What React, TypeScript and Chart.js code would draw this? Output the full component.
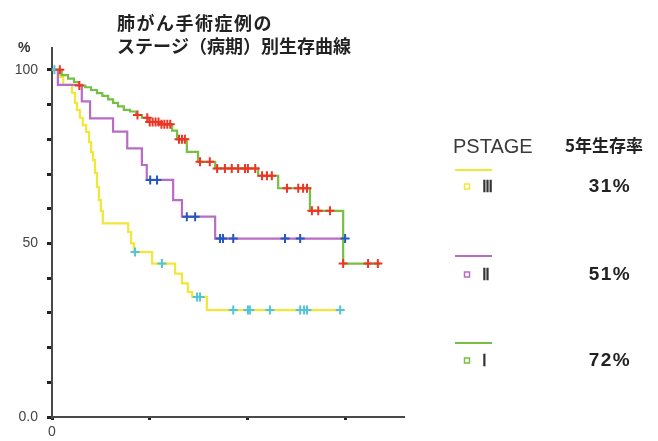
import { useEffect, useRef } from 'react';
import { Chart, registerables } from 'chart.js';

Chart.register(...registerables);

// ---- Text ----
const TITLE_LINES = ['肺がん手術症例の', 'ステージ（病期）別生存曲線'];
const LEGEND_HEADER = 'PSTAGE';
const RATE_HEADER = '5年生存率';
const STAGE_LABELS = ['Ⅲ', 'Ⅱ', 'Ⅰ'];
const RATE_LABELS = ['31%', '51%', '72%'];
const Y_UNIT = '%';
const X_TICKS = [0, 2, 4, 6];
const Y_TICK_LABELS: Record<number, string> = { 100: '100', 50: '50', 0: '0.0' };
const X_TICK_LABELS: Record<number, string> = { 0: '0' };

// ---- Data (time in years, survival in %) ----
const stage1Times = [0, 0.2, 0.33, 0.45, 0.55, 0.68, 0.8, 0.92, 1.03, 1.15, 1.25, 1.35, 1.47, 1.6, 1.72, 1.84, 1.96, 2.2, 2.46, 2.56, 2.76, 2.99, 3.34, 4.22, 4.63, 5.28, 5.96, 6.72];
const stage1Surv = [100, 98.5, 97.5, 96.5, 95.5, 95, 94.2, 93.3, 92.5, 91.5, 90.5, 89.5, 88.5, 88, 87, 86.2, 85, 84.3, 82.5, 80, 76.4, 73.5, 71.6, 69.5, 65.9, 59.4, 44.2, 44.2];
const stage1CensorTimes = [0.16, 0.56, 1.75, 1.95, 2.0, 2.06, 2.12, 2.18, 2.24, 2.3, 2.36, 2.42, 2.6, 2.66, 2.72, 3.03, 3.23, 3.38, 3.54, 3.68, 3.81, 3.95, 4.01, 4.16, 4.3, 4.4, 4.5, 4.81, 5.04, 5.14, 5.22, 5.32, 5.45, 5.69, 5.96, 6.47, 6.67];
const stage1CensorSurv = [100, 95.5, 87, 86.2, 85, 85, 85, 85, 84.3, 84.3, 84.3, 84.3, 80, 80, 80, 73.5, 73.5, 71.6, 71.6, 71.6, 71.6, 71.6, 71.6, 71.6, 69.5, 69.5, 69.5, 65.9, 65.9, 65.9, 65.9, 59.4, 59.4, 59.4, 44.2, 44.2, 44.2];

const stage2Times = [0, 0.12, 0.61, 0.78, 1.25, 1.54, 1.84, 1.94, 2.48, 2.66, 3.34, 6.0];
const stage2Surv = [100, 95.7, 90.9, 86, 82.2, 77.4, 72.6, 68.3, 62.5, 57.7, 51.4, 51.4];
const stage2CensorTimes = [2.01, 2.15, 2.76, 2.93, 3.44, 3.5, 3.71, 4.77, 5.08, 6.0];
const stage2CensorSurv = [68.3, 68.3, 57.7, 57.7, 51.4, 51.4, 51.4, 51.4, 51.4, 51.4];

const stage3Times = [0, 0.16, 0.23, 0.41, 0.47, 0.51, 0.57, 0.63, 0.7, 0.76, 0.8, 0.84, 0.88, 0.92, 0.96, 1.0, 1.04, 1.56, 1.62, 1.68, 2.05, 2.52, 2.66, 2.78, 2.87, 3.17, 5.9];
const stage3Surv = [100, 98, 95.7, 93.4, 90.5, 88.5, 86.2, 84.1, 82.1, 79.2, 76.3, 74, 70.3, 66.3, 62.5, 59.3, 55.8, 53.3, 50, 47.5, 44.2, 41.3, 38.5, 36, 34.6, 30.8, 30.8];
const stage3CensorTimes = [0.05, 1.7, 2.25, 2.97, 3.03, 3.71, 4.01, 4.05, 4.46, 5.08, 5.16, 5.22, 5.9];
const stage3CensorSurv = [100, 47.5, 44.2, 34.6, 34.6, 30.8, 30.8, 30.8, 30.8, 30.8, 30.8, 30.8, 30.8];

// ---- Styles ----
const YELLOW = '#f2e636';
const PURPLE = '#b86cc4';
const GREEN = '#74bf44';
const RED = '#ee3424';
const BLUE = '#2458c0';
const CYAN = '#52c4d8';
const AXIS = '#4a4a4a';

const toPts = (xs: number[], ys: number[]) => xs.map((x, i) => ({ x, y: ys[i] }));

const overlay = {
  id: 'overlay',
  afterDraw(chart: any) {
    const ctx: CanvasRenderingContext2D = chart.ctx;
    ctx.save();
    ctx.textBaseline = 'middle';
    ctx.textAlign = 'left';
    // title
    ctx.fillStyle = '#222';
    ctx.font = 'bold 18px "Noto Sans CJK JP"';
    (ctx as any).letterSpacing = '1.5px';
    ctx.fillText(TITLE_LINES[0], 117, 23);
    (ctx as any).letterSpacing = '0px';
    ctx.fillText(TITLE_LINES[1], 117, 46);
    // y unit
    ctx.font = 'bold 14px "Liberation Sans"';
    ctx.fillStyle = '#333';
    ctx.fillText(Y_UNIT, 18, 48);
    // legend header
    ctx.font = '20px "Liberation Sans"';
    ctx.fillStyle = '#3a3a3a';
    ctx.fillText(LEGEND_HEADER, 453, 147);
    ctx.font = 'bold 17px "Noto Sans CJK JP"';
    ctx.fillStyle = '#222';
    ctx.fillText(RATE_HEADER, 565, 146);
    const colors = [YELLOW, PURPLE, GREEN];
    const lineY = [170, 256, 343];
    const rowY = [187, 275, 361];
    for (let i = 0; i < 3; i++) {
      ctx.strokeStyle = colors[i];
      ctx.lineWidth = 2;
      ctx.beginPath();
      ctx.moveTo(455, lineY[i]);
      ctx.lineTo(492, lineY[i]);
      ctx.stroke();
      ctx.lineWidth = 1.5;
      ctx.strokeRect(464.5, rowY[i] - 3, 5, 5);
      ctx.fillStyle = '#333';
      ctx.font = 'bold 16px "Liberation Serif"';
      ctx.fillText(STAGE_LABELS[i], 482, rowY[i] + 1);
      ctx.font = 'bold 19px "Liberation Sans"';
      ctx.fillStyle = '#222';
      (ctx as any).letterSpacing = '1.5px';
      ctx.textAlign = 'center';
      ctx.fillText(RATE_LABELS[i], 610, rowY[i]);
      ctx.textAlign = 'left';
      (ctx as any).letterSpacing = '0px';
    }
    ctx.restore();
  },
};

export default function App() {
  const ref = useRef<HTMLCanvasElement>(null);
  useEffect(() => {
    if (!ref.current) return;
    const lineDs = (data: any, color: string) => ({
      data,
      borderColor: color,
      backgroundColor: color,
      borderWidth: 2.2,
      pointRadius: 0,
      stepped: true,
      fill: false,
    });
    const markDs = (data: any, color: string) => ({
      data,
      showLine: false,
      borderColor: color,
      backgroundColor: color,
      pointStyle: 'cross',
      pointRadius: 4.5,
      pointBorderWidth: 2,
    });
    const chart = new Chart(ref.current, {
      type: 'line',
      data: {
        datasets: [
          markDs(toPts(stage1CensorTimes, stage1CensorSurv), RED),
          markDs(toPts(stage2CensorTimes, stage2CensorSurv), BLUE),
          markDs(toPts(stage3CensorTimes, stage3CensorSurv), CYAN),
          lineDs(toPts(stage1Times, stage1Surv), GREEN),
          lineDs(toPts(stage2Times, stage2Surv), PURPLE),
          lineDs(toPts(stage3Times, stage3Surv), YELLOW),
        ] as any,
      },
      options: {
        animation: false,
        responsive: false,
        devicePixelRatio: 1,
        layout: { padding: { left: 0, right: 255, top: 48, bottom: 0 } },
        plugins: {
          legend: { display: false },
          tooltip: { enabled: false },
          title: { display: false },
        },
        scales: {
          x: {
            type: 'linear',
            min: 0,
            max: 7.185,
            ticks: {
              autoSkip: false,
              maxRotation: 0,
              padding: 4,
              color: '#444',
              font: { family: 'Liberation Sans', size: 14 },
              callback: (v: any) => X_TICK_LABELS[v] ?? '',
            },
            grid: { drawOnChartArea: false, tickLength: 3, color: '#222', lineWidth: 3 },
            border: { color: AXIS, width: 2 },
            afterBuildTicks: (s: any) => {
              s.ticks = X_TICKS.map((v) => ({ value: v }));
            },
            afterFit: (s: any) => {
              s.height = 24;
            },
          },
          y: {
            type: 'linear',
            min: 0,
            max: 106.3,
            ticks: {
              stepSize: 10,
              autoSkip: false,
              padding: 9,
              color: '#444',
              font: { family: 'Liberation Sans', size: 14 },
              callback: (v: any) => Y_TICK_LABELS[v] ?? '',
            },
            grid: { drawOnChartArea: false, tickLength: 5, color: '#222', lineWidth: 3 },
            border: { color: AXIS, width: 2 },
            afterBuildTicks: (s: any) => {
              s.ticks = s.ticks.filter((t: any) => t.value <= 100.01);
            },
            afterFit: (s: any) => {
              s.width = 52;
            },
          },
        },
      } as any,
      plugins: [overlay],
    });
    return () => chart.destroy();
  }, []);
  return (
    <div style={{ position: 'fixed', left: 0, top: 0, width: 658, height: 441, background: '#fff' }}>
      <canvas ref={ref} width={658} height={441} style={{ display: 'block' }} />
    </div>
  );
}
